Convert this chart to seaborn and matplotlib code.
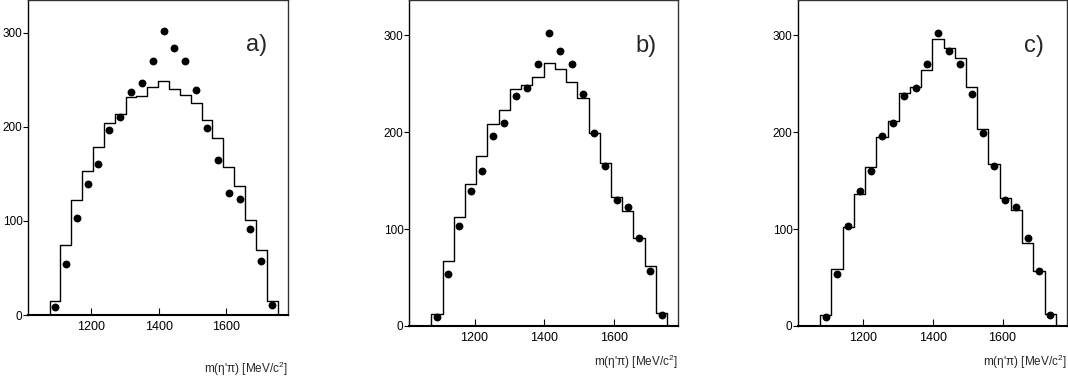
import numpy as np
import pandas as pd
import matplotlib
matplotlib.use("Agg")
import matplotlib.pyplot as plt
import seaborn as sns

# ---- data ----
bin_lo, bin_hi, n_bins = 1076, 1753, 21
data_counts = [9, 54, 103, 139, 160, 196, 210, 237, 246, 270, 302,
               284, 270, 239, 199, 165, 130, 123, 91, 57, 11]
fit_a = [14.5, 74, 122, 153, 178, 204, 213, 231, 233, 242, 249,
         240, 234, 225, 207, 188, 157, 137, 101, 69, 15]
fit_b = [12.7, 67, 113, 146.5, 175, 208, 223, 245, 249, 257, 271,
         265.5, 252, 235, 199, 168.5, 133, 119, 91, 61.5, 13.8]
fit_c = [11.4, 59, 102, 136, 164, 195, 211.5, 241, 247, 264.5, 296.5,
         287, 276.5, 247, 203.6, 167, 132.5, 120, 86, 57, 12.4]
panel_labels = ["a)", "b)", "c)"]
x_ticks = [1200, 1400, 1600]
y_ticks = [0, 100, 200, 300]
xlabel = "m(\u03b7'\u03c0) [MeV/c$^2$]"

edges = [float(e) for e in np.linspace(bin_lo, bin_hi, n_bins + 1)]
centers = [0.5 * (edges[k] + edges[k + 1]) for k in range(n_bins)]

sns.set_style("white")
plt.rcParams["font.family"] = ["Liberation Sans", "DejaVu Sans"]
plt.rcParams["mathtext.fontset"] = "custom"
plt.rcParams["mathtext.rm"] = "Liberation Sans"

W, H = 1068, 381
fig = plt.figure(figsize=(W / 100, H / 100), dpi=100)

# axes rectangles in pixels: left, right, top, bottom
rects = [(28, 288, 0.5, 315), (409, 678, 0.5, 326), (798, 1066.5, 0.5, 326)]
label_top = [360, 353, 353]
fits = [fit_a, fit_b, fit_c]

for i, ((l, r, t, b), fit) in enumerate(zip(rects, fits)):
    ax = fig.add_axes([l / W, 1 - b / H, (r - l) / W, (b - t) / H])
    df = pd.DataFrame({"m": centers, "fit": fit, "data": data_counts})
    sns.histplot(data=df, x="m", weights="fit", bins=edges, element="step",
                 fill=True, color="black", linewidth=1.0, ax=ax)
    for coll in ax.collections:
        coll.set_facecolor("none")
        coll.set_edgecolor("black")
        coll.set_linewidth(1.0)
        coll.set_alpha(1.0)
    sns.scatterplot(data=df, x="m", y="data", color="black", s=32,
                    edgecolor="black", linewidth=0, ax=ax, zorder=5)
    ax.set_xlim(1012, 1784)
    ax.set_ylim(0, 334 if i == 0 else 336)
    ax.set_xticks(x_ticks)
    ax.set_yticks(y_ticks)
    ax.tick_params(axis="x", direction="in", length=5, width=0.8,
                   labelsize=9, pad=4, colors="black", bottom=True)
    ax.tick_params(axis="y", direction="out", length=3.5, width=0.8,
                   labelsize=8.5, pad=0.5, colors="black", left=True)
    for s in ax.spines.values():
        s.set_color("#333333")
        s.set_linewidth(1.0)
        s.set_visible(True)
    ax.spines["bottom"].set_linewidth(1.5)
    ax.spines["bottom"].set_color("black")
    ax.spines["left"].set_color("black")
    ax.set_ylabel("")
    ax.set_xlabel(xlabel, fontsize=8.5, loc="right")
    ax.xaxis.set_label_coords(1.0, -(label_top[i] - b) / (b - t))
    ax.text(0.88, 0.86, panel_labels[i], transform=ax.transAxes,
            fontsize=17, ha="center", va="center")

fig.savefig("out.png", dpi=100)
